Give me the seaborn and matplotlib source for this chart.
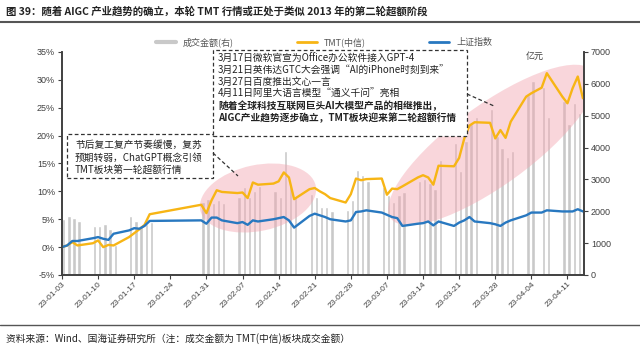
import pandas as pd
import matplotlib
matplotlib.use("Agg")
import matplotlib.pyplot as plt
import matplotlib.dates as mdates
import seaborn as sns
from matplotlib.patches import Ellipse, Rectangle
from matplotlib.lines import Line2D

# trading days, 2023
dates = [
    "01-03", "01-04", "01-05", "01-06", "01-09", "01-10", "01-11", "01-12", "01-13",
    "01-16", "01-17", "01-18", "01-19", "01-20", "01-30", "01-31",
    "02-01", "02-02", "02-03", "02-06", "02-07", "02-08", "02-09", "02-10",
    "02-13", "02-14", "02-15", "02-16", "02-17", "02-20", "02-21", "02-22", "02-23", "02-24",
    "02-27", "02-28",
    "03-01", "03-02", "03-03", "03-06", "03-07", "03-08", "03-09", "03-10",
    "03-13", "03-14", "03-15", "03-16", "03-17", "03-20", "03-21", "03-22", "03-23", "03-24",
    "03-27", "03-28", "03-29", "03-30", "03-31",
    "04-03", "04-04", "04-06", "04-07", "04-10", "04-11", "04-12", "04-13", "04-14",
]

# TMT(中信) cumulative return, %
tmt = [
    0.0, 0.3, 0.9, 0.3, 0.7, 1.2, 0.0, 0.4, 0.3,
    1.8, 2.5, 3.2, 4.0, 5.9, 7.6, 6.1,
    8.4, 10.2, 9.9, 9.7, 9.8, 8.8, 11.6, 11.2,
    11.4, 11.8, 13.4, 12.5, 8.6, 10.4, 10.6, 10.0, 9.5, 8.8,
    8.0, 9.5,
    12.3, 12.0, 12.2, 12.3, 9.4, 10.5, 10.4, 10.9,
    12.5, 12.9, 12.5, 11.2, 14.6, 14.5, 16.0, 19.5, 21.8, 22.4,
    22.3, 19.5, 21.0, 19.6, 22.5,
    27.0, 27.6, 28.6, 31.2, 27.0, 25.8, 28.5, 30.6, 26.7,
]

# 上证指数 cumulative return, %
sh = [
    0.0, 0.3, 1.1, 1.1, 1.6, 1.8, 1.5, 1.3, 2.4,
    3.0, 3.4, 3.3, 3.8, 4.7, 4.8, 4.2,
    5.3, 5.3, 4.8, 4.3, 4.5, 4.0, 4.8, 4.6,
    5.0, 5.2, 5.4, 4.8, 3.5, 5.6, 6.0, 5.7, 5.4, 5.0,
    4.6, 4.8,
    6.3, 6.4, 6.6, 6.2, 5.8, 5.4, 5.2, 3.8,
    4.2, 4.3, 4.6, 3.9, 4.6, 3.8, 4.4, 4.8, 5.4, 4.6,
    4.3, 4.1, 3.8, 4.4, 4.8,
    5.7, 6.2, 6.2, 6.6, 6.4, 6.4, 6.4, 6.8, 6.4,
]

# 成交金额, 亿元
amount = [
    1750, 1850, 1800, 1700, 1550, 1550, 1600, 1450, 950,
    1850, 1700, 1550, 1600, 1650, 2300, 2400,
    2250, 2350, 2250, 2450, 2750, 2450, 2650, 2800,
    2650, 2450, 3900, 2850, 2450, 2550, 2450, 2150, 2150, 2000,
    2050, 2350,
    3300, 3150, 2950, 2750, 2500, 2300, 2500, 2600,
    2950, 3000, 2900, 2700, 3600, 4150, 3250, 4200, 4750, 4950,
    5200, 4350, 4000, 3700, 3900,
    5650, 6100, 5900, 4950, 5450, 4750, 5400, 5100, 4900,
]

df = pd.DataFrame({
    "date": pd.to_datetime(["2023-" + d for d in dates]),
    "tmt": tmt,
    "sh": sh,
    "amount": amount,
})

sns.set_theme(style="white")
plt.rcParams["font.family"] = ["Liberation Sans", "Noto Sans CJK SC"]
cjk = ["Noto Sans CJK SC", "DejaVu Sans"]

W, H = 640, 355
fig = plt.figure(figsize=(W / 100, H / 100), dpi=100)
ax = fig.add_axes([62 / W, 80 / H, (584 - 62) / W, (275 - 52) / H])
ax2 = ax.twinx()
ax.set_zorder(ax2.get_zorder() + 1)
ax.patch.set_visible(False)

grey = "#c9c9c9"
yellow = "#f7b515"
blue = "#2878c0"
dark = "#404040"

# bars on the right axis
ax2.bar(df["date"], df["amount"], width=0.65, align="edge", color=grey, zorder=1)

# pink highlight ellipses (pixel positions)
def px(x, y):
    return (x / 100, (H - y) / 100)

for (cx, cy, w, h, ang) in [(258, 198, 118, 66, 12), (492, 145, 250, 80, 36)]:
    e = Ellipse(px(cx, cy), w / 100, h / 100, angle=ang, transform=fig.dpi_scale_trans,
                facecolor="#f3a6b0", alpha=0.45, edgecolor="none", zorder=2)
    ax2.add_patch(e)

# lines on the left axis
sns.lineplot(data=df, x="date", y="tmt", ax=ax, color=yellow, linewidth=1.7, legend=False)
sns.lineplot(data=df, x="date", y="sh", ax=ax, color=blue, linewidth=1.7, legend=False)

ax.set_xlim(pd.Timestamp("2023-01-03"), pd.Timestamp("2023-04-14 05:00"))
ax.set_ylim(-5, 35)
ax.set_yticks(range(-5, 36, 5))
ax.set_yticklabels([f"{v}%" for v in range(-5, 36, 5)])
ax2.set_ylim(0, 7000)
ax2.set_yticks(range(0, 7001, 1000))

ticks = pd.date_range("2023-01-03", "2023-04-11", freq="7D")
ax.set_xticks(ticks)
ax.xaxis.set_major_formatter(mdates.DateFormatter("%y-%m-%d"))
for lab in ax.get_xticklabels():
    lab.set_rotation(45)
    lab.set_ha("right")
    lab.set_rotation_mode("anchor")

ax.set_xlabel("")
ax.set_ylabel("")
ax2.set_ylabel("")

for a in (ax, ax2):
    a.spines["top"].set_visible(False)
    for s in ("left", "right", "bottom"):
        a.spines[s].set_color(dark)
        a.spines[s].set_linewidth(1.2)
ax.tick_params(axis="y", left=True, direction="out", length=3, width=0.8,
               labelsize=6.5, colors=dark, pad=2)
ax.tick_params(axis="x", bottom=True, direction="out", length=3, width=0.8,
               labelsize=6, colors=dark, pad=1)
ax2.tick_params(axis="y", right=True, direction="out", length=3, width=0.8,
                labelsize=6.5, colors=dark, pad=2)

# legend
handles = [Line2D([], [], color=grey, lw=3),
           Line2D([], [], color=yellow, lw=2),
           Line2D([], [], color=blue, lw=2)]
ax.legend(handles, ["成交金额(右)", "TMT(中信)", "上证指数"], ncol=3, frameon=False,
          loc="center", bbox_to_anchor=(324 / W, 1 - 42 / H), bbox_transform=fig.transFigure,
          prop={"family": cjk, "size": 6.5}, handlelength=2.2, columnspacing=7,
          labelcolor="#555555")

fig.text(535 / W, 1 - 56 / H, "亿元", fontsize=6.5, family=cjk, color=dark,
         ha="center", va="center")

# annotation boxes
def box(x0, y0, x1, y1):
    r = Rectangle(px(x0, y1), (x1 - x0) / 100, (y1 - y0) / 100, transform=fig.dpi_scale_trans,
                  facecolor="white", edgecolor="#333333", lw=0.9, ls=(0, (3, 2)), zorder=5)
    fig.add_artist(r)

box(67, 134, 213, 178)
box(213, 50, 467, 136)

for (x0, y0, x1, y1) in [(213, 153, 238, 176), (467, 94, 494, 106)]:
    fig.add_artist(Line2D([x0 / W, x1 / W], [1 - y0 / H, 1 - y1 / H], color="#333333",
                          lw=0.9, ls=(0, (3, 2)), zorder=5))

box1_lines = ["节后复工复产节奏缓慢，复苏", "预期转弱，ChatGPT概念引领", "TMT板块第一轮超额行情"]
for i, t in enumerate(box1_lines):
    fig.text(75 / W, 1 - (145 + i * 12.5) / H, t, fontsize=7, family=cjk, color="#222222",
             va="center", ha="left", zorder=6)

box2_lines = [
    ("3月17日微软官宣为Office办公软件接入GPT-4", "normal"),
    ("3月21日英伟达GTC大会强调“AI的iPhone时刻到来”", "normal"),
    ("3月27日百度推出文心一言", "normal"),
    ("4月11日阿里大语言模型“通义千问”亮相", "normal"),
    ("随着全球科技互联网巨头AI大模型产品的相继推出，", "bold"),
    ("AIGC产业趋势逐步确立，TMT板块迎来第二轮超额行情", "bold"),
]
for i, (t, wt) in enumerate(box2_lines):
    fig.text(218 / W, 1 - (59 + i * 11.7) / H, t, fontsize=7, family=cjk, color="#222222",
             fontweight=wt, va="center", ha="left", zorder=6)

# title, rules and source
fig.text(6 / W, 1 - 11 / H, "图 39：随着 AIGC 产业趋势的确立，本轮 TMT 行情或正处于类似 2013 年的第二轮超额阶段",
         fontsize=7.5, family=cjk, fontweight="bold", color="#222222", va="center", ha="left")
fig.add_artist(Line2D([0, 1], [1 - 22 / H] * 2, color="#555555", lw=1.5))
fig.add_artist(Line2D([0, 1], [1 - 325 / H] * 2, color="#555555", lw=1.0))
fig.text(6 / W, 1 - 339 / H, "资料来源：Wind、国海证券研究所（注：成交金额为 TMT(中信)板块成交金额）",
         fontsize=7, family=cjk, color="#222222", va="center", ha="left")

fig.savefig("out.png", dpi=100)
